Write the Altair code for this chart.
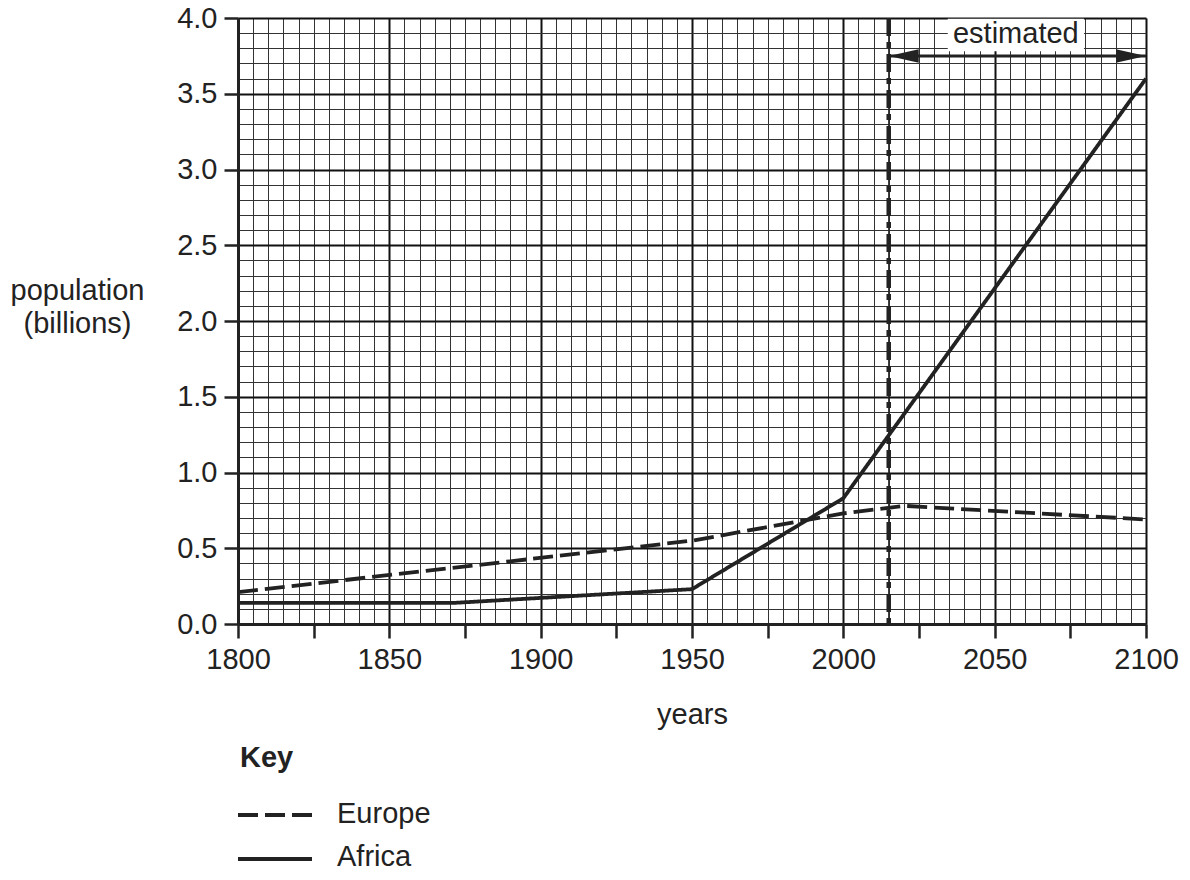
import altair as alt
import pandas as pd

# ---------------- data ----------------
series_names = ["Europe", "Africa"]

europe_years = [1800, 1950, 2000, 2020, 2100]
europe_pop = [0.21, 0.55, 0.73, 0.78, 0.69]

africa_years = [1800, 1872, 1950, 2000, 2100]
africa_pop = [0.14, 0.14, 0.23, 0.83, 3.60]

x_ticks = list(range(1800, 2101, 5))
y_ticks = [round(i * 0.1, 1) for i in range(41)]

estimate_start = 2015
estimate_end = 2100
arrow_level = 3.75
estimate_label = "estimated"
label_year = 2057
label_level = 3.835
label_box_years = [2034.5, 2079.5]
label_box_levels = [3.995, 3.78]

y_title = ["population", "(billions)"]
x_title = "years"
key_title = "Key"

# ---------------- styling ----------------
FONT = "Liberation Sans"
FS = 29
INK = "#222222"
W, H = 908, 606

df = pd.DataFrame({
    "year": europe_years + africa_years,
    "population": europe_pop + africa_pop,
    "region": ["Europe"] * len(europe_years) + ["Africa"] * len(africa_years),
})

x_scale = alt.Scale(domain=[1800, 2100], nice=False, zero=False)
y_scale = alt.Scale(domain=[0, 4], nice=False, zero=False)

x_major = "datum.value % 50 === 0"
x_tick_test = "datum.value % 25 === 0"
y_major = "abs(datum.value * 2 - round(datum.value * 2)) < 1e-6"

x_axis = alt.Axis(
    values=x_ticks,
    format="d",
    labelExpr=f"{x_major} ? datum.label : ''",
    labelOverlap=False,
    labelFlush=False,
    labelFont=FONT, labelFontSize=FS, labelColor=INK, labelPadding=7,
    tickSize=14, tickWidth=2.5, tickColor=INK,
    tickOpacity={"condition": {"test": x_tick_test, "value": 1}, "value": 0},
    gridColor={"condition": {"test": x_major, "value": "#111111"}, "value": "#333333"},
    gridWidth={"condition": {"test": x_major, "value": 2}, "value": 1},
    domainColor=INK, domainWidth=3,
    title=x_title, titleFont=FONT, titleFontSize=FS, titleFontWeight="normal",
    titleColor=INK, titleBaseline="alphabetic", titleY=99, titleX=W / 2,
)

y_axis = alt.Axis(
    values=y_ticks,
    labelExpr=f"{y_major} ? format(datum.value, '.1f') : ''",
    labelOverlap=False,
    labelFlush=False,
    labelFont=FONT, labelFontSize=FS, labelColor=INK, labelPadding=7,
    tickSize=14, tickWidth=2.5, tickColor=INK,
    tickOpacity={"condition": {"test": y_major, "value": 1}, "value": 0},
    gridColor={"condition": {"test": y_major, "value": "#111111"}, "value": "#333333"},
    gridWidth={"condition": {"test": y_major, "value": 2}, "value": 1},
    domainColor=INK, domainWidth=3,
    title=y_title, titleFont=FONT, titleFontSize=FS, titleFontWeight="normal",
    titleColor=INK, titleAngle=0, titleAlign="center", titleBaseline="alphabetic",
    titleX=-161, titleY=281, titleLineHeight=33,
)


def X(field):
    return alt.X(field, scale=x_scale, axis=x_axis)


def Y(field):
    return alt.Y(field, scale=y_scale, axis=y_axis)


dash_scale = alt.Scale(domain=series_names, range=[[20, 7], [1, 0]])

lines = alt.Chart(df).mark_line(color=INK, strokeWidth=3.8).encode(
    x=X("year:Q"),
    y=Y("population:Q"),
    strokeDash=alt.StrokeDash("region:N", scale=dash_scale, legend=None),
    detail="region:N",
)

vline_df = pd.DataFrame({"year": [estimate_start]})
vline_thin = alt.Chart(vline_df).mark_rule(color=INK, strokeWidth=1.2).encode(x=X("year:Q"))
vline_dash = alt.Chart(vline_df).mark_rule(
    color=INK, strokeWidth=4.5, strokeDash=[18, 6, 6, 6]
).encode(x=X("year:Q"))

box_df = pd.DataFrame({
    "x1": [label_box_years[0]], "x2": [label_box_years[1]],
    "y1": [label_box_levels[0]], "y2": [label_box_levels[1]],
})
label_box = alt.Chart(box_df).mark_rect(color="white").encode(
    x=X("x1:Q"), x2="x2:Q", y=Y("y1:Q"), y2="y2:Q",
)

arrow_df = pd.DataFrame({"start": [estimate_start], "end": [estimate_end], "level": [arrow_level]})
arrow_line = alt.Chart(arrow_df).mark_rule(color=INK, strokeWidth=3).encode(
    x=X("start:Q"), x2="end:Q", y=Y("level:Q"),
)
head_left = alt.Chart(arrow_df).mark_point(
    shape="M0,0L2,-0.45L2,0.45Z", filled=True, size=900, color=INK, opacity=1
).encode(x=X("start:Q"), y=Y("level:Q"))
head_right = alt.Chart(arrow_df).mark_point(
    shape="M0,0L-2,-0.45L-2,0.45Z", filled=True, size=900, color=INK, opacity=1
).encode(x=X("end:Q"), y=Y("level:Q"))

label_df = pd.DataFrame({"year": [label_year], "level": [label_level], "text": [estimate_label]})
est_text = alt.Chart(label_df).mark_text(
    font=FONT, fontSize=FS, color=INK, align="center", baseline="alphabetic"
).encode(x=X("year:Q"), y=Y("level:Q"), text="text:N")

# ---------------- key ----------------
key_df = pd.DataFrame({"t": [key_title]})
key_text = alt.Chart(key_df).mark_text(
    font=FONT, fontSize=FS, fontWeight="bold", color=INK, align="left", baseline="alphabetic"
).encode(x=alt.value(2), y=alt.value(749), text="t:N")

key_layers = []
key_rows = {"Europe": (797, 805, [20, 7]), "Africa": (841, 848, [1, 0])}
for name in series_names:
    ly, ty, dash = key_rows[name]
    kdf = pd.DataFrame({"region": [name]})
    key_layers.append(
        alt.Chart(kdf).mark_rule(color=INK, strokeWidth=3.8, strokeDash=dash).encode(
            x=alt.value(0), x2=alt.value(74), y=alt.value(ly)
        )
    )
    key_layers.append(
        alt.Chart(kdf).mark_text(
            font=FONT, fontSize=FS, color=INK, align="left", baseline="alphabetic"
        ).encode(x=alt.value(99), y=alt.value(ty), text="region:N")
    )

chart = alt.layer(
    lines, vline_thin, vline_dash, label_box, arrow_line, head_left, head_right,
    est_text, key_text, *key_layers
).properties(
    width=W, height=H,
    autosize=alt.AutoSizeParams(type="none"),
    padding={"left": 230, "top": 10, "right": 36, "bottom": 248},
).configure_view(
    stroke="black", strokeWidth=2
).configure(background="white")

chart.save("out.html", embed_options={"renderer": "svg", "actions": False})
